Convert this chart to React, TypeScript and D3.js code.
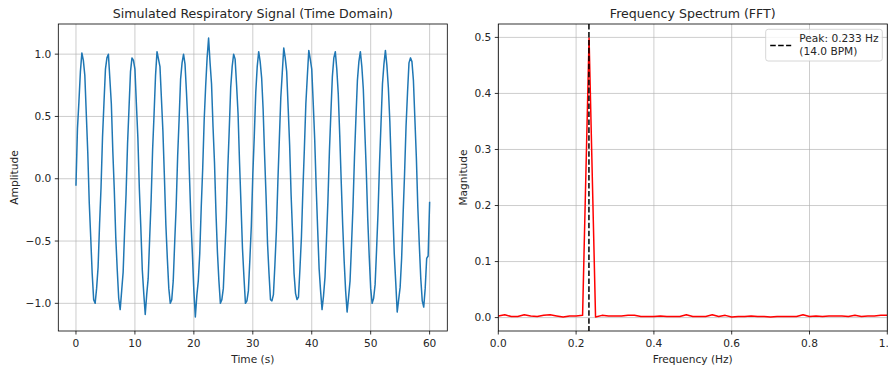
import React from "react"
import * as d3 from "d3"

// time domain signal, sampled every 0.25 s from 0 to 60 s
const sampleStep = 0.25
const signalValues = [
  -0.05, 0.40, 0.62, 0.86, 1.01, 0.95, 0.83, 0.52, 0.21, -0.19,
  -0.47, -0.76, -0.97, -1.00, -0.88, -0.71, -0.37, -0.07, 0.33, 0.61,
  0.88, 0.97, 1.00, 0.80, 0.60, 0.22, -0.09, -0.47, -0.73, -0.96,
  -1.05, -0.90, -0.75, -0.42, -0.12, 0.28, 0.57, 0.86, 0.97, 0.95,
  0.88, 0.60, 0.33, -0.08, -0.39, -0.73, -0.92, -1.09, -0.93, -0.80,
  -0.48, -0.17, 0.23, 0.52, 0.83, 1.02, 0.96, 0.90, 0.64, 0.38,
  0.02, -0.37, -0.64, -0.88, -1.00, -0.97, -0.82, -0.51, -0.22, 0.18,
  0.48, 0.80, 0.93, 1.00, 0.92, 0.69, 0.43, 0.03, -0.33, -0.60,
  -0.90, -1.11, -0.94, -0.82, -0.60, -0.23, 0.08, 0.47, 0.74, 0.97,
  1.13, 0.93, 0.76, 0.42, 0.13, -0.27, -0.59, -0.82, -1.00, -0.97,
  -0.88, -0.60, -0.33, 0.07, 0.39, 0.73, 0.90, 1.00, 0.96, 0.75,
  0.52, 0.13, -0.21, -0.56, -0.79, -1.00, -0.98, -0.90, -0.65, -0.38,
  0.03, 0.34, 0.69, 0.90, 1.02, 0.94, 0.81, 0.56, 0.19, -0.14,
  -0.52, -0.76, -0.97, -0.98, -0.93, -0.69, -0.42, -0.03, 0.31, 0.65,
  0.85, 1.05, 0.97, 0.86, 0.57, 0.27, -0.13, -0.44, -0.76, -0.92,
  -0.97, -0.95, -0.72, -0.47, -0.09, 0.24, 0.60, 0.82, 1.03, 0.96,
  0.88, 0.61, 0.32, -0.06, -0.40, -0.72, -0.90, -1.05, -0.94, -0.79,
  -0.49, -0.17, 0.22, 0.53, 0.82, 0.97, 1.02, 0.88, 0.68, 0.35,
  -0.02, -0.37, -0.66, -0.90, -1.07, -0.95, -0.82, -0.53, -0.22, 0.17,
  0.49, 0.79, 0.94, 1.02, 0.90, 0.72, 0.39, 0.07, -0.32, -0.62,
  -0.88, -1.00, -0.96, -0.85, -0.57, -0.27, 0.12, 0.44, 0.76, 0.92,
  1.03, 0.91, 0.73, 0.46, 0.09, -0.25, -0.60, -0.83, -1.07, -0.97,
  -0.87, -0.64, -0.29, 0.04, 0.42, 0.69, 0.93, 0.97, 0.94, 0.79,
  0.48, 0.17, -0.23, -0.53, -0.80, -0.98, -1.03, -0.88, -0.64, -0.62,
  -0.19,
]

// FFT magnitudes at k/60 Hz, k = 0..60
const freqStep = 1 / 60
const fftValues = [
  0.003, 0.005, 0.002, 0.002, 0.005, 0.003, 0.002, 0.004, 0.005, 0.003,
  0.001, 0.003, 0.003, 0.004, 0.499, 0.001, 0.004, 0.003, 0.003, 0.003,
  0.004, 0.004, 0.002, 0.002, 0.002, 0.003, 0.002, 0.002, 0.002, 0.005,
  0.002, 0.002, 0.002, 0.005, 0.002, 0.004, 0.001, 0.002, 0.002, 0.003,
  0.002, 0.002, 0.001, 0.002, 0.002, 0.002, 0.002, 0.005, 0.002, 0.003,
  0.002, 0.003, 0.003, 0.003, 0.002, 0.004, 0.002, 0.003, 0.003, 0.004,
  0.004,
]

const peakFreq = 0.233
const peakBpm = 14.0

const timeTicks = [0, 10, 20, 30, 40, 50, 60]
const ampTicks = [-1.0, -0.5, 0.0, 0.5, 1.0]
const freqTicks = [0, 0.2, 0.4, 0.6, 0.8, 1.0]
const magTicks = [0, 0.1, 0.2, 0.3, 0.4, 0.5]

const FONT = "DejaVu Sans, sans-serif"
const TEXT = "#262626"
const SMALL = 10.6
const BIG = 12.6

// matplotlib style auto limits: 5% margin either side
function padded(lo, hi) {
  const m = (hi - lo) * 0.05
  return [lo - m, hi + m]
}

function Axes({ left, right, top, bottom, x, y, xTicks, yTicks, xFmt, yFmt, title, xLabel, yLabel, yLabelX, children }) {
  return (
    <g>
      {/* grid */}
      {xTicks.map(t => (
        <line key={"gx" + t} x1={x(t)} x2={x(t)} y1={top} y2={bottom} stroke="#b0b0b0" strokeOpacity={0.8} strokeWidth={0.8} />
      ))}
      {yTicks.map(t => (
        <line key={"gy" + t} x1={left} x2={right} y1={y(t)} y2={y(t)} stroke="#b0b0b0" strokeOpacity={0.8} strokeWidth={0.8} />
      ))}
      <g clipPath={`url(#clip-${left})`}>{children}</g>
      <clipPath id={`clip-${left}`}>
        <rect x={left} y={top} width={right - left} height={bottom - top} />
      </clipPath>
      <rect x={left} y={top} width={right - left} height={bottom - top} fill="none" stroke="#000" strokeWidth={0.8} />
      {xTicks.map(t => (
        <g key={"tx" + t}>
          <line x1={x(t)} x2={x(t)} y1={bottom} y2={bottom + 3.5} stroke="#000" strokeWidth={0.8} />
          <text x={x(t)} y={bottom + 16.3} textAnchor="middle" fontSize={SMALL} fill={TEXT}>{xFmt(t)}</text>
        </g>
      ))}
      {yTicks.map(t => (
        <g key={"ty" + t}>
          <line x1={left - 3.5} x2={left} y1={y(t)} y2={y(t)} stroke="#000" strokeWidth={0.8} />
          <text x={left - 7} y={y(t)} dy="0.35em" textAnchor="end" fontSize={SMALL} fill={TEXT}>{yFmt(t)}</text>
        </g>
      ))}
      <text x={(left + right) / 2} y={top - 6} textAnchor="middle" fontSize={BIG} fill={TEXT}>{title}</text>
      <text x={(left + right) / 2} y={bottom + 31.5} textAnchor="middle" fontSize={SMALL} fill={TEXT}>{xLabel}</text>
      <text transform={`translate(${yLabelX},${(top + bottom) / 2}) rotate(-90)`} textAnchor="middle" dy="0.35em" fontSize={SMALL} fill={TEXT}>{yLabel}</text>
    </g>
  )
}

export default function App() {
  const top = 24
  const bottom = 331

  const signal = signalValues.map((v, i) => ({ t: i * sampleStep, v }))
  const spectrum = fftValues.map((m, i) => ({ f: i * freqStep, m }))

  const tExt = d3.extent(signal, d => d.t)
  const vExt = d3.extent(signal, d => d.v)
  const xT = d3.scaleLinear().domain(padded(tExt[0], tExt[1])).range([58.3, 447.3])
  const yT = d3.scaleLinear().domain(padded(vExt[0], vExt[1])).range([bottom, top])

  const mExt = d3.extent(spectrum, d => d.m)
  const xF = d3.scaleLinear().domain([0, 1]).range([498.3, 887.3])
  const yF = d3.scaleLinear().domain(padded(mExt[0], mExt[1])).range([bottom, top])

  const sigLine = d3.line().x(d => xT(d.t)).y(d => yT(d.v))
  const fftLine = d3.line().x(d => xF(d.f)).y(d => yF(d.m))

  const f1 = d3.format(".1f")
  const f0 = d3.format("d")

  const lgX = 765.7
  const lgY = 29.3

  return (
    <svg width={888} height={367} style={{ position: "absolute", left: 0, top: 0, background: "#fff" }} fontFamily={FONT}>
      <rect width={888} height={367} fill="#fff" />
      <Axes left={58.3} right={447.3} top={top} bottom={bottom} x={xT} y={yT}
        xTicks={timeTicks} yTicks={ampTicks} xFmt={f0} yFmt={f1}
        title="Simulated Respiratory Signal (Time Domain)" xLabel="Time (s)" yLabel="Amplitude" yLabelX={14.5}>
        <path d={sigLine(signal)} fill="none" stroke="#1f77b4" strokeWidth={1.5} strokeLinejoin="round" strokeLinecap="square" />
      </Axes>
      <Axes left={498.3} right={887.3} top={top} bottom={bottom} x={xF} y={yF}
        xTicks={freqTicks} yTicks={magTicks} xFmt={f1} yFmt={f1}
        title="Frequency Spectrum (FFT)" xLabel="Frequency (Hz)" yLabel="Magnitude" yLabelX={463}>
        <path d={fftLine(spectrum)} fill="none" stroke="red" strokeWidth={1.5} strokeLinejoin="round" />
        <line x1={xF(peakFreq)} x2={xF(peakFreq)} y1={top} y2={bottom} stroke="#000" strokeWidth={1.5} strokeDasharray="5.55,2.4" />
      </Axes>
      {/* legend */}
      <g>
        <rect x={lgX} y={lgY} width={116.6} height={31.7} rx={2.5} fill="#fff" fillOpacity={0.8} stroke="#cccccc" strokeWidth={0.8} />
        <line x1={lgX + 4.5} x2={lgX + 25.5} y1={lgY + 16.3} y2={lgY + 16.3} stroke="#000" strokeWidth={1.5} strokeDasharray="5.55,2.4" />
        <text x={lgX + 33.6} y={lgY + 12.6} fontSize={SMALL} fill={TEXT}>{`Peak: ${peakFreq.toFixed(3)} Hz`}</text>
        <text x={lgX + 33.6} y={lgY + 25.3} fontSize={SMALL} fill={TEXT}>{`(${peakBpm.toFixed(1)} BPM)`}</text>
      </g>
    </svg>
  )
}
